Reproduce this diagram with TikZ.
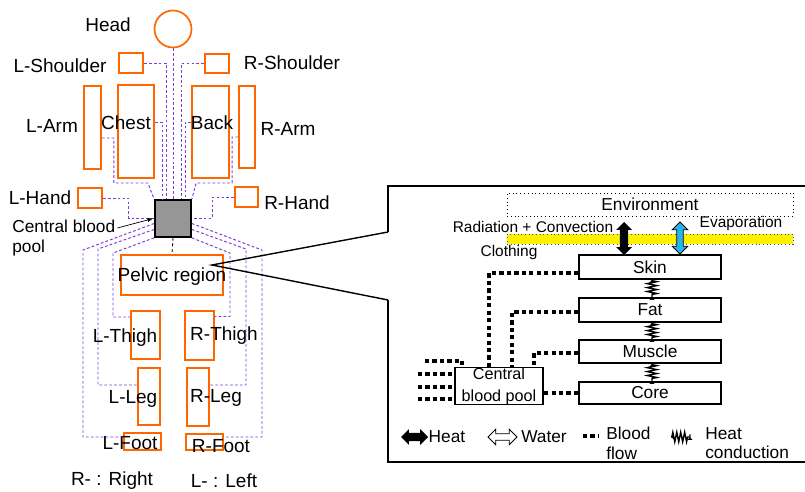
\documentclass[tikz,border=0pt]{standalone}
\usepackage{fontspec}
\setmainfont{Liberation Sans}
\usetikzlibrary{arrows.meta,calc,shapes.arrows,decorations.pathmorphing}
\newlength\pxl
\setlength\pxl{0.025cm}
\definecolor{partorange}{RGB}{255,102,0}
\definecolor{vesselviolet}{RGB}{130,60,220}
\definecolor{poolgray}{RGB}{150,150,150}
\definecolor{waterblue}{RGB}{40,180,240}

\begin{document}
\begin{tikzpicture}[x=0.025cm, y=-0.025cm,
  part/.style={draw=partorange, line width=1.2pt, inner sep=0pt},
  sz/.style 2 args={minimum width=#1*\pxl, minimum height=#2*\pxl},
  lbl/.style={font=\fontsize{13.5}{16}\selectfont, inner sep=0pt},
  txt/.style={font=\fontsize{12.3}{14}\selectfont, inner sep=0pt},
  small/.style={font=\fontsize{11}{13}\selectfont, inner sep=0pt},
  vessel/.style={draw=vesselviolet, line width=0.7pt, dash pattern=on 2pt off 1.5pt},
  layer/.style={draw, line width=1.2pt, txt, minimum width=142*\pxl, minimum height=24*\pxl},
  flow/.style={line width=3pt, dash pattern=on 3pt off 2.3pt},
  heatarrow/.style={double arrow, fill=black, inner xsep=0pt, inner ysep=2.8pt, double arrow head extend=2.6pt, minimum width=0pt},
  waterarrow/.style={double arrow, draw=black, line width=0.6pt, inner xsep=0pt, inner ysep=2pt, double arrow head extend=3.2pt, minimum width=0pt},
  cond/.style={line width=1pt, decorate, decoration={zigzag, amplitude=3.4pt, segment length=2.8pt, pre length=0.6pt, post length=0.6pt}, arrows={Latex[length=2pt,width=4pt]-Latex[length=2pt,width=4pt]}}
]
\useasboundingbox (0,0) rectangle (805,492);

% body segments
\node[part, circle, minimum size=37*\pxl] (head) at (173,29) {};
\node[part, sz={24}{20}] (lsh) at (131,63) {};
\node[part, sz={24}{19}] (rsh) at (217,63.5) {};
\node[part, sz={17}{83}] (larm) at (92.5,127.5) {};
\node[part, sz={36}{93}] (chest) at (136,131.5) {};
\node[part, sz={37}{92}] (back) at (210.5,132) {};
\node[part, sz={16}{82}] (rarm) at (247,127) {};
\node[part, sz={24}{20}] (lhand) at (90,198) {};
\node[part, sz={23}{20}] (rhand) at (246.5,197) {};
\node[draw, line width=1.2pt, fill=poolgray, inner sep=0pt, sz={36}{37}] (pool) at (173,218.5) {};
\node[part, sz={102}{40}] (pelvis) at (172,275) {};
\node[part, sz={29}{48}] (lthigh) at (145.5,335) {};
\node[part, sz={29}{49}] (rthigh) at (199.5,335.5) {};
\node[part, sz={22}{57}] (lleg) at (149,396.5) {};
\node[part, sz={22}{58}] (rleg) at (198,397) {};
\node[part, sz={37}{17}] (lfoot) at (142.5,441.5) {};
\node[part, sz={37}{16}] (rfoot) at (204.5,442) {};

% body labels
\node[lbl] (headlbl) at (108,25) {Head};
\node[lbl] (lshlbl) at (60,66) {L-Shoulder};
\node[lbl] (rshlbl) at (292,63) {R-Shoulder};
\node[lbl] (larmlbl) at (52,126) {L-Arm};
\node[lbl] (chestlbl) at (126,123) {Chest};
\node[lbl] (backlbl) at (212,123) {Back};
\node[lbl] (rarmlbl) at (288,129) {R-Arm};
\node[lbl] (lhandlbl) at (40,198) {L-Hand};
\node[lbl] (rhandlbl) at (297,203) {R-Hand};
\node[lbl] (pelvislbl) at (172,277) {Pelvic region};
\node[lbl] (lthighlbl) at (125,338) {L-Thigh};
\node[lbl] (rthighlbl) at (224,336) {R-Thigh};
\node[lbl] (lleglbl) at (133,399) {L-Leg};
\node[lbl] (rleglbl) at (216,398) {R-Leg};
\node[lbl] (lfootlbl) at (130,443) {L-Foot};
\node[lbl] (rfootlbl) at (221,446) {R-Foot};
\node[txt, anchor=north west, align=left] (poollbl) at (12,220) {Central blood\\pool};
\node[lbl] (rkey) at (112,481) {R- : Right};
\node[lbl] (lkey) at (224,481) {L- : Left};

% vessels to the central pool
\draw[vessel] (head.south) -- (head.south |- pool.north);
\draw[vessel] (lsh.east) -| ($(pool.north)+(-7,0)$);
\draw[vessel] (rsh.west) -| ($(pool.north)+(8,0)$);
\draw[vessel] ($(chest.east)+(0,-9.5)$) -| ($(pool.north)+(-11,0)$);
\draw[vessel] ($(back.west)+(0,-10)$) -| ($(pool.north)+(12,0)$);
\draw[vessel] ($(larm.east)+(0,10.5)$) -| ++(12,45) -- ++(34,0) -- (pool.north west);
\draw[vessel] ($(rarm.west)+(0,10)$) -| ++(-6,46) -- ++(-36,0) -- (pool.north east);
\draw[vessel] (lhand.east) -| ++(26,20.5) -- (pool.west);
\draw[vessel] (rhand.west) -| ++(-22,21.5) -- (pool.east);
\draw[vessel] ($(pool.west)+(0,5)$) -- (83,250) |- ($(lfoot.west)+(0,-4.5)$);
\draw[vessel] ($(pool.west)+(0,11)$) -- (98,249) |- ($(lleg.west)+(0,-11.5)$);
\draw[vessel] (pool.south west) -- (113,253) |- ($(lthigh.west)+(0,-18)$);
\draw[vessel] ($(pool.east)+(0,5)$) -- (262,250) |- ($(rfoot.east)+(0,-5)$);
\draw[vessel] ($(pool.east)+(0,11)$) -- (246,249) |- ($(rleg.east)+(0,-12)$);
\draw[vessel] (pool.south east) -- (230,253) |- ($(rthigh.east)+(0,-19)$);
\draw[line width=0.6pt, dash pattern=on 2pt off 2pt] (pool.south) -- (pelvis.north);
\draw[-{Latex[length=4pt,width=3pt]}, line width=0.5pt] ($(poollbl.north east)+(2,8)$) -- ($(pool.west)+(-1,0)$);

% zoom panel
\coordinate (zoompt) at (212,265);
\coordinate (panelA) at (388,232);
\coordinate (panelB) at (388,300);
\draw[line width=1pt] (panelA) -- (zoompt) -- (panelB);
\draw[line width=1.2pt] (panelA) -- (388,186) -- (812,186) -- (812,462) -- (388,462) -- (panelB);

\node[draw, dotted, line width=0.7pt, sz={286}{23}, txt] (env) at (650,204.5) {Environment};
\node[fill=yellow, draw=black!70, dotted, line width=0.6pt, sz={286}{10}, inner sep=0pt] (cloth) at (650,239) {};
\node[layer] (skin) at (650,267) {Skin};
\node[layer] (fat) at (650,310) {Fat};
\node[layer, minimum height=23*\pxl] (muscle) at (650,351.5) {Muscle};
\node[layer, minimum height=22*\pxl] (core) at (650,393) {Core};
\node[layer, minimum width=88*\pxl, minimum height=36*\pxl, align=center, font=\fontsize{11.5}{15.5}\selectfont] (cpool) at (499,386) {Central\\blood pool};

\node[small] (radlbl) at (533,227) {Radiation + Convection};
\node[small] (evaplbl) at (741,224) {Evaporation};
\node[small] (clothlbl) at (509,253) {Clothing};
\node[heatarrow, rotate=90, minimum height=33*\pxl] (radarrow) at (624,238.5) {};
\node[waterarrow, fill=waterblue, rotate=90, minimum height=32*\pxl] (evaparrow) at (680,238) {};

% conduction between layers
\draw[cond] ($(skin.south)+(2,0)$) -- ($(fat.north)+(2,0)$);
\draw[cond] ($(fat.south)+(2,0)$) -- ($(muscle.north)+(2,0)$);
\draw[cond] ($(muscle.south)+(2,0)$) -- ($(core.north)+(2,0)$);

% blood flow
\draw[flow] ($(skin.west)+(0,6)$) -| ($(cpool.north west)+(35,0)$);
\draw[flow] ($(fat.west)+(0,2)$) -| ($(cpool.north)+(13,0)$);
\draw[flow] ($(muscle.west)+(0,1.5)$) -| ($(cpool.north east)+(-10,0)$);
\draw[flow] (core.west) -- (core.west -| cpool.east);
\coordinate (retA) at (418,374);
\coordinate (retB) at (418,387);
\coordinate (retC) at (418,399);
\coordinate (retD) at (425,361);
\draw[flow] (retA) -- (retA -| cpool.west);
\draw[flow] (retB) -- (retB -| cpool.west);
\draw[flow] (retC) -- (retC -| cpool.west);
\draw[flow] (retD) -| ($(cpool.north west)+(8,0)$);

% legend
\node[heatarrow, minimum height=27*\pxl] (heatkey) at (414.5,437) {};
\node[txt] (heatkeylbl) at (447,437) {Heat};
\node[waterarrow, fill=white, minimum height=29*\pxl] (waterkey) at (502.5,437) {};
\node[txt] (waterkeylbl) at (544,437) {Water};
\coordinate (flowkeyA) at (583,436);
\coordinate (flowkeyB) at (599,436);
\draw[flow] (flowkeyA) -- (flowkeyB);
\node[txt, anchor=west, align=left] (flowkeylbl) at (606,443) {Blood\\flow};
\coordinate (condkeyA) at (671,437);
\coordinate (condkeyB) at (690,437);
\draw[cond] (condkeyA) -- (condkeyB);
\node[txt, anchor=west, align=left] (condkeylbl) at (705,443) {Heat\\conduction};
\end{tikzpicture}
\end{document}
